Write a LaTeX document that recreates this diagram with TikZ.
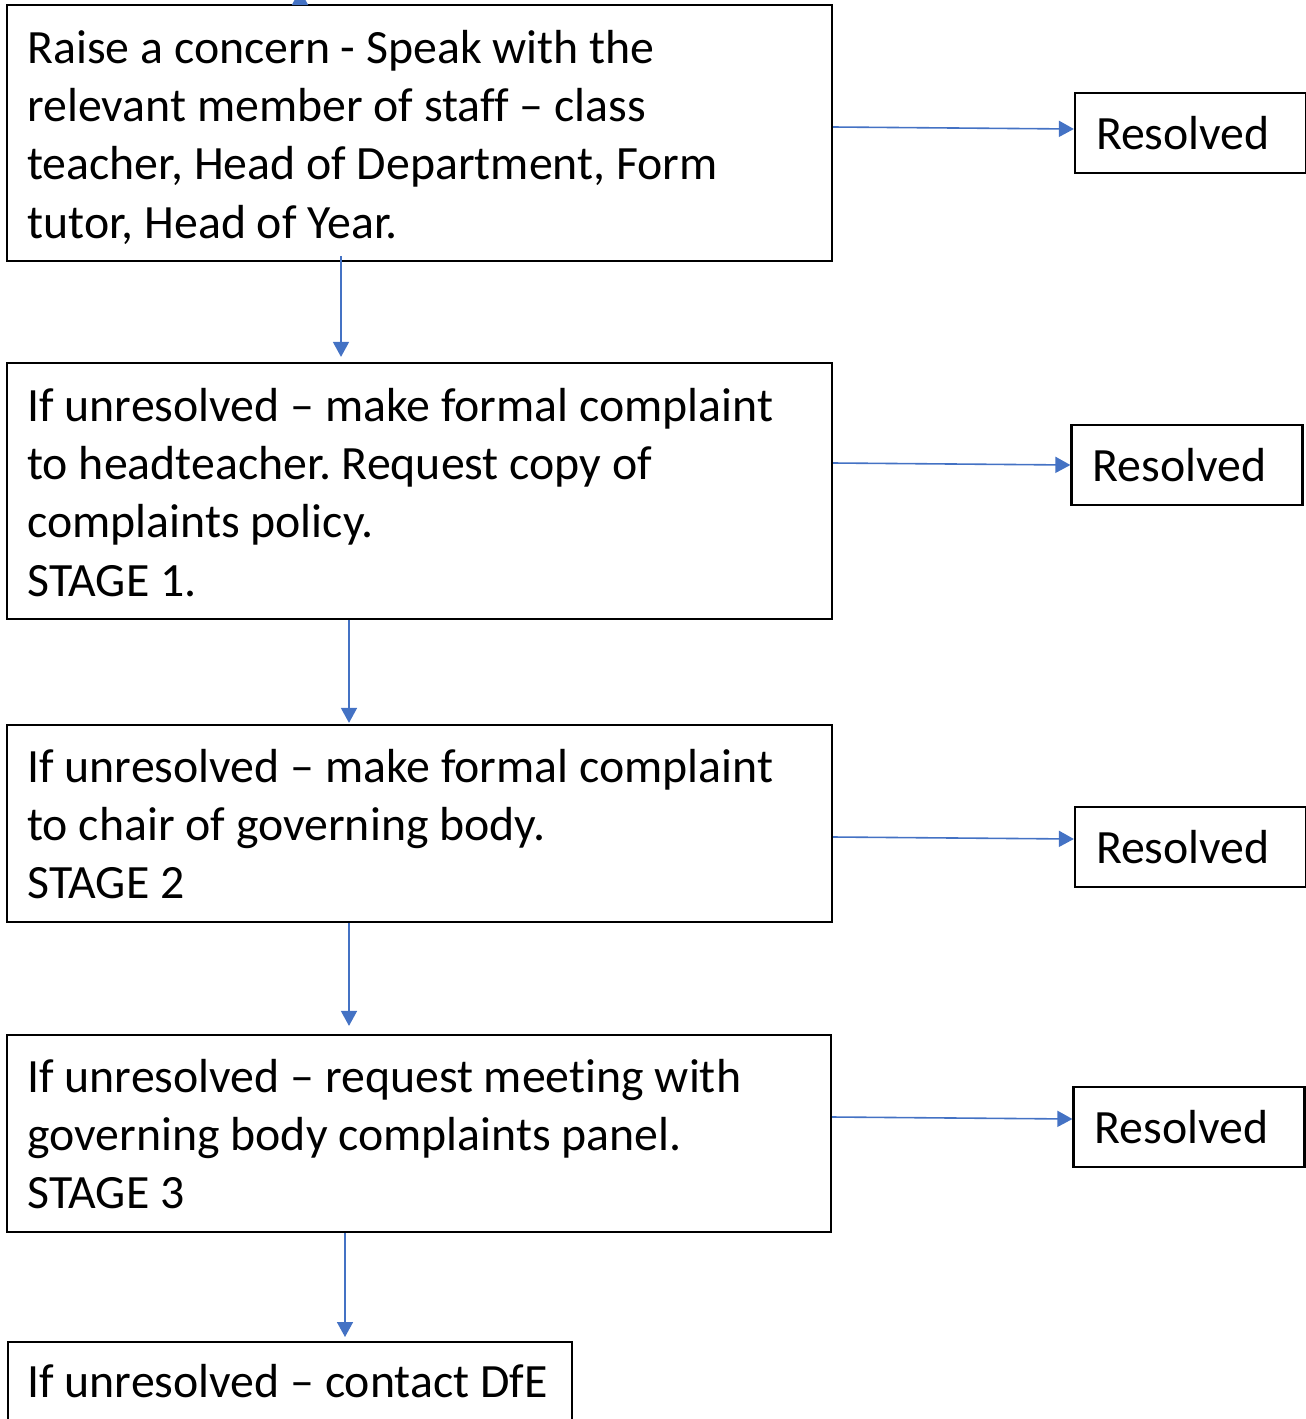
\documentclass[tikz,border=0pt]{standalone}
\usepackage{fontspec}
\setmainfont{Carlito}[Ligatures={NoCommon}]
\frenchspacing
\usetikzlibrary{arrows.meta}
\definecolor{arrowblue}{HTML}{4472C4}
\newcommand\boxfont{\fontsize{23.9pt}{29.2pt}\selectfont}
\newcommand\ws{\spaceskip=0.226em\relax\xspaceskip=0.226em\relax}
\tikzset{
  stagebox/.style={draw=black, line width=1.1pt, rectangle, inner sep=0pt},
  stagetext/.style={anchor=base west, inner sep=0pt, align=left, text width=400pt,
    font=\boxfont},
  resbox/.style={draw=black, line width=1.1pt, rectangle, minimum height=40pt,
    text width=94.5pt, inner xsep=10.5pt, inner ysep=0pt, align=left,
    font=\boxfont},
  flow/.style={draw=arrowblue, line width=0.8pt, -{Triangle[length=7.5pt,width=8pt]}}
}
\begin{document}
\begin{tikzpicture}[x=0.5pt,y=-0.5pt]
\clip (0,0) rectangle (1306,1419);
% main boxes
\node[stagebox, minimum width=412.5pt, minimum height=128pt] (b1) at (419.5,133) {};
\node[stagebox, minimum width=412.5pt, minimum height=128pt] (b2) at (419.5,491) {};
\node[stagebox, minimum width=412.5pt, minimum height=98.5pt] (b3) at (419.5,823.5) {};
\node[stagebox, minimum width=412pt, minimum height=98.5pt] (b4) at (419,1133.5) {};
\node[stagebox, minimum width=282pt, minimum height=60pt, anchor=north west] (b5) at (7,1341) {};
% texts
\node[stagetext] (t1) at (27,63) {\ws Raise a concern - Speak with the\\relevant member of staff – class\\teacher, Head of Department, Form\\tutor, Head of Year.};
\node[stagetext] (t2) at (27,421) {\ws If unresolved – make formal complaint\\to headteacher. Request copy of\\complaints policy.\\STAGE 1.};
\node[stagetext] (t3) at (27,782) {\ws If unresolved – make formal complaint\\to chair of governing body.\\STAGE 2};
\node[stagetext] (t4) at (27,1092) {\ws If unresolved – request meeting with\\governing body complaints panel.\\STAGE 3};
\node[stagetext] (t5) at (27,1397) {\ws If unresolved – contact DfE};
% resolved boxes
\node[resbox] (r1) at (1190.5,133) {Resolved};
\node[resbox] (r2) at (1187,465) {Resolved};
\node[resbox] (r3) at (1190.5,847) {Resolved};
\node[resbox] (r4) at (1189,1127) {Resolved};
% connectors
\coordinate (up) at (300,-10);
\draw[flow] (b1.north -| up) -- (up);
\draw[flow, shorten >=2.5pt] (341,256) -- (341,0 |- b2.north);
\draw[flow, shorten >=0.5pt] (349,0 |- b2.south) -- (349,0 |- b3.north);
\draw[flow, shorten >=4pt] (349,0 |- b3.south) -- (349,0 |- b4.north);
\draw[flow, shorten >=2pt] (345,0 |- b4.south) -- (345,0 |- b5.north);
\draw[flow] (b1.east |- 0,127) -- (r1.west |- 0,129);
\draw[flow] (b2.east |- 0,463) -- (r2.west |- 0,465);
\draw[flow] (b3.east |- 0,837) -- (r3.west |- 0,839);
\draw[flow] (b4.east |- 0,1117) -- (r4.west |- 0,1119);
\end{tikzpicture}
\end{document}
